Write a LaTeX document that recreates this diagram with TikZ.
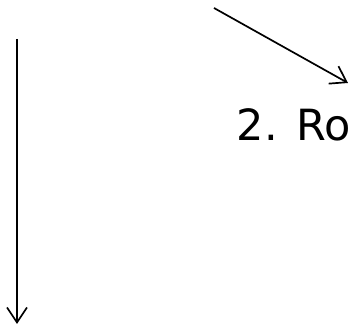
\documentclass[tikz,border=0pt]{standalone}
\usepackage{fontspec}
\setmainfont{DejaVu Sans}
\usetikzlibrary{arrows.meta, positioning}

\begin{document}
\begin{tikzpicture}[x=1pt,y=1pt,line width=1.7pt,>={Straight Barb[length=15pt,width=20pt]}]
    \useasboundingbox (0,0) rectangle (350,328);
    \coordinate (v0) at (17,289);
    \coordinate (v1) at (17,4);
    \coordinate (d0) at (214,320);
    \coordinate (d1) at (348,245);
    \node[anchor=base west,inner sep=0pt,font=\fontsize{43}{52}\selectfont] (ro) at (236,187) {2. Ro};

    \draw[->] (v0) -- (v1);
    \draw[->] (d0) -- (d1);
  \end{tikzpicture}
\end{document}
